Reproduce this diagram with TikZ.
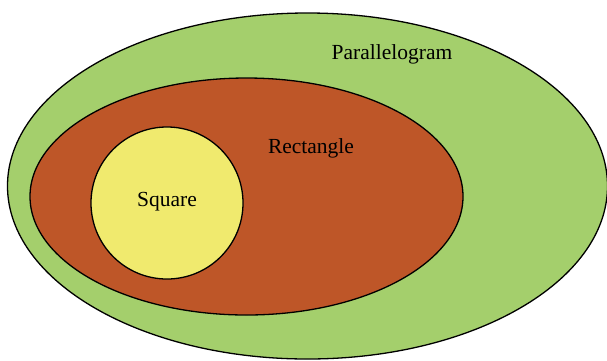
\documentclass[tikz,border=0pt]{standalone}
\usepackage{xcolor}
\usepackage{fontspec}
\setmainfont{Liberation Serif}
\definecolor{paragreen}{RGB}{164,207,108}
\definecolor{rectbrown}{RGB}{190,86,40}
\definecolor{squareyellow}{RGB}{240,234,110}
\tikzset{
  set shape/.style={draw=black, line width=1.3pt},
  set label/.style={font=\fontsize{21.5}{25}\selectfont, text=black}
}

\begin{document}
\begin{tikzpicture}[x=1pt, y=-1pt]
	\useasboundingbox (0,0) rectangle (607,360);
	% Sets
	\draw[set shape, fill=paragreen] (307.5,186) ellipse [x radius=300, y radius=173];
	\draw[set shape, fill=rectbrown] (246.5,196.5) ellipse [x radius=216.5, y radius=118.5];
	\draw[set shape, fill=squareyellow] (167,203) ellipse [x radius=76, y radius=76];
	% Labels
	\node[set label] (para) at (392,54) {Parallelogram};
	\node[set label] (rect) at (311,148) {Rectangle};
	\node[set label] (sq) at (167,202) {Square};
\end{tikzpicture}
\end{document}
